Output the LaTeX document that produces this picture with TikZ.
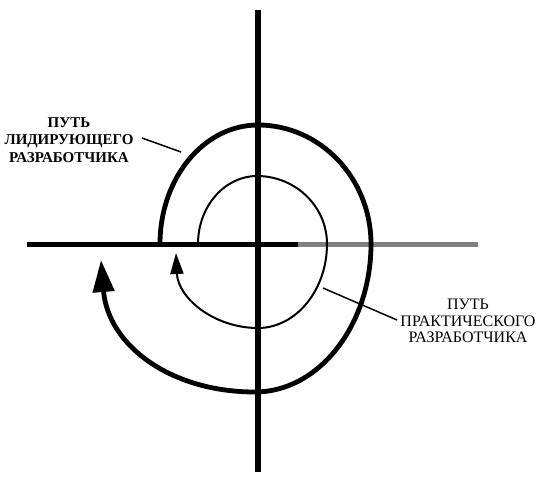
\documentclass[tikz,border=0pt]{standalone}
\usepackage{fontspec}
\setmainfont{Liberation Serif}
\usetikzlibrary{arrows.meta}
\begin{document}
\begin{tikzpicture}[x=1pt,y=-1pt,
  vaxis/.style={line width=6pt},
  haxis/.style={line width=5pt},
  outerpath/.style={line width=4.8pt},
  innerpath/.style={line width=2pt},
  leader/.style={line width=1.5pt},
  lbl/.style={align=center, inner sep=0pt}]
\useasboundingbox (0,0) rectangle (537,476);
% axes
\coordinate (vt) at (258,10);
\coordinate (vb) at (258,472);
\coordinate (hl) at (27,244);
\coordinate (hm) at (298,244);
\coordinate (hr) at (478,244);
\draw[vaxis] (vt) -- (vb);
\draw[haxis, black!50] (hm) -- (hr);
\draw[haxis] (hl) -- (hm);
% outer spiral (leading developer)
\draw[outerpath, -{Triangle[length=32pt,width=21pt]}]
  (160,244) .. controls (160,178) and (204,125) .. (258,125)
  .. controls (320,125) and (371,178) .. (371,244)
  .. controls (371,325) and (319,392) .. (255,392)
  .. controls (170,392) and (108,345) .. (101,260);
% inner spiral (practical developer)
\draw[innerpath, -{Triangle[length=21pt,width=13pt]}]
  (198,244) .. controls (198,206) and (225,176) .. (257,176)
  .. controls (295,176) and (327,206) .. (327,244)
  .. controls (327,290) and (296,328) .. (258,328)
  .. controls (214,328) and (178,298) .. (176,253);
% labels
\node[lbl, font=\fontsize{15}{17.5}\selectfont\bfseries] (lead) at (69,140)
  {ПУТЬ\\ЛИДИРУЮЩЕГО\\РАЗРАБОТЧИКА};
\node[lbl, font=\fontsize{16}{16.5}\selectfont] (prac) at (468,321)
  {ПУТЬ\\ПРАКТИЧЕСКОГО\\РАЗРАБОТЧИКА};
% leaders
\coordinate (l1a) at (142,138);
\coordinate (l1b) at (181,152);
\coordinate (l2a) at (323,288);
\coordinate (l2b) at (397,320);
\draw[leader] (l1a) -- (l1b);
\draw[leader] (l2a) -- (l2b);
\end{tikzpicture}
\end{document}
